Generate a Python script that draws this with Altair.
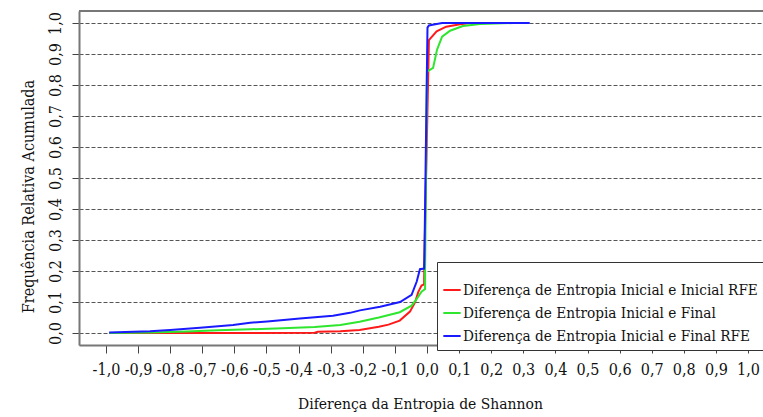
import altair as alt
import pandas as pd

s_red = "Diferença de Entropia Inicial e Inicial RFE"
s_green = "Diferença de Entropia Inicial e Final"
s_blue = "Diferença de Entropia Inicial e Final RFE"

x_red = [-0.99, -0.60, -0.35, -0.34, -0.27, -0.21, -0.15, -0.12, -0.085, -0.053, -0.037,
         -0.027, -0.017, -0.009, -0.008, 0.006, 0.03, 0.06, 0.103, 0.135]
y_red = [0.0, 0.0, 0.001, 0.004, 0.006, 0.010, 0.020, 0.027, 0.040, 0.069, 0.100,
         0.133, 0.153, 0.157, 0.25, 0.945, 0.973, 0.988, 0.996, 1.0]

x_green = [-0.99, -0.86, -0.75, -0.65, -0.55, -0.45, -0.35, -0.27, -0.21, -0.15, -0.085,
           -0.048, -0.032, -0.017, -0.006, -0.006, -0.005, 0.0, 0.019, 0.031, 0.047,
           0.072, 0.112, 0.165, 0.27]
y_green = [0.0, 0.002, 0.005, 0.009, 0.012, 0.015, 0.019, 0.026, 0.036, 0.050, 0.067,
           0.088, 0.110, 0.133, 0.142, 0.20, 0.30, 0.843, 0.855, 0.913, 0.956,
           0.975, 0.990, 0.997, 1.0]

x_blue = [-0.99, -0.863, -0.80, -0.707, -0.604, -0.551, -0.498, -0.396, -0.293, -0.24,
          -0.209, -0.146, -0.084, -0.048, -0.032, -0.022, -0.009, -0.008, 0.0015, 0.006,
          0.022, 0.047, 0.32]
y_blue = [0.002, 0.006, 0.010, 0.017, 0.026, 0.033, 0.037, 0.047, 0.056, 0.065,
          0.073, 0.085, 0.100, 0.123, 0.166, 0.206, 0.208, 0.25, 0.985, 0.992,
          0.995, 1.0, 1.0]

x_ticks = [-1.0, -0.9, -0.8, -0.7, -0.6, -0.5, -0.4, -0.3, -0.2, -0.1, 0.0,
           0.1, 0.2, 0.3, 0.4, 0.5, 0.6, 0.7, 0.8, 0.9, 1.0]
y_ticks = [0.0, 0.1, 0.2, 0.3, 0.4, 0.5, 0.6, 0.7, 0.8, 0.9, 1.0]

rows = []
for name, xs, ys in [(s_red, x_red, y_red), (s_green, x_green, y_green), (s_blue, x_blue, y_blue)]:
    for i, (a, b) in enumerate(zip(xs, ys)):
        rows.append({"serie": name, "x": a, "y": b, "i": i})
df = pd.DataFrame(rows)

FONT = "DejaVu Serif Condensed"
lab_expr = "replace((datum.value < -1e-9 ? '-' : '') + format(abs(datum.value), '.1f'), '.', ',')"

W, H = 684, 334

lines = alt.Chart(df).mark_line(strokeWidth=2, clip=True).encode(
    x=alt.X("x:Q",
            scale=alt.Scale(domain=[-1.0841, 1.0467], nice=False, zero=False),
            axis=alt.Axis(values=x_ticks, labelExpr=lab_expr, grid=False,
                          title="Diferença da Entropia de Shannon",
                          titleFont=FONT, titleFontSize=15.5, titleFontWeight="normal",
                          titleColor="#111", titleX=341, titleY=63,
                          titleBaseline="alphabetic", titleAlign="center",
                          labelFont=FONT, labelFontSize=16, labelColor="#111",
                          labelBaseline="top", labelAlign="center", labelPadding=8,
                          labelFlush=False, labelOverlap=False,
                          tickSize=8, tickColor="#444", tickWidth=1,
                          domainColor="#777", domainWidth=2)),
    y=alt.Y("y:Q",
            scale=alt.Scale(domain=[-0.0387, 1.0387], nice=False, zero=False),
            axis=alt.Axis(values=y_ticks, labelExpr=lab_expr, grid=True,
                          gridDash=[4, 2], gridColor="#555", gridWidth=1,
                          title="Frequência Relativa Acumulada",
                          titleFont=FONT, titleFontSize=16, titleFontWeight="normal",
                          titleColor="#111", titleX=-46, titleY=185, titleAngle=270,
                          titleBaseline="alphabetic", titleAlign="center",
                          labelFont=FONT, labelFontSize=16, labelColor="#111",
                          labelAngle=270, labelAlign="center", labelBaseline="alphabetic",
                          labelPadding=12, labelFlush=False, labelOverlap=False,
                          tickSize=7, tickColor="#444", tickWidth=1,
                          domainColor="#777", domainWidth=2)),
    color=alt.Color("serie:N",
                    scale=alt.Scale(domain=[s_red, s_green, s_blue],
                                    range=["#ff1a1a", "#2ee62e", "#1a1aff"]),
                    legend=alt.Legend(orient="none", legendX=358, legendY=251,
                                      title=" ", titleFontSize=8, titlePadding=5,
                                      padding=5, strokeColor="#333", fillColor="white",
                                      symbolType="stroke", symbolStrokeWidth=2,
                                      symbolSize=300, labelFont=FONT, labelFontSize=15.2,
                                      labelColor="#111", labelLimit=1000, labelOffset=1,
                                      rowPadding=4)),
    order=alt.Order("i:Q"),
)

top_border = alt.Chart(df).mark_rule(color="#777", strokeWidth=2).encode(
    x=alt.value(0), x2=alt.value(W), y=alt.value(0)
).transform_filter("datum.i == 0 && datum.serie == '" + s_red + "'")

chart = alt.layer(lines, top_border).properties(
    width=W, height=H,
    autosize=alt.AutoSizeParams(type="none"),
    padding={"left": 79, "top": 11, "right": 0, "bottom": 72},
    background="white",
).configure_view(strokeOpacity=0).configure(font=FONT)

chart.save("out.html", embed_options={"renderer": "svg", "actions": False})
